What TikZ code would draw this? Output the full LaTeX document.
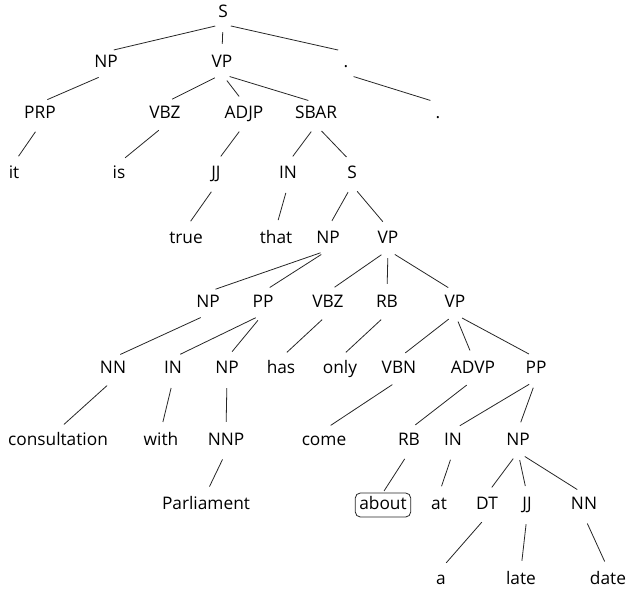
\documentclass[tikz,border=0pt]{standalone}
\usepackage{fontspec}
\setmainfont{Open Sans}
\begin{document}
\begin{tikzpicture}[x=1pt,y=-1pt,
  lbl/.style={font=\fontsize{17.3}{19}\selectfont, text height=12.5pt, text depth=3.5pt, inner sep=3pt, anchor=center},
  edge/.style={draw=black!85, line width=0.8pt, shorten <=8pt, shorten >=8pt}]
\useasboundingbox (0,0) rectangle (630,595);
% row 0
\node[lbl] (s0) at (223,13) {S};
% row 1
\node[lbl] (np1) at (106,63) {NP};
\node[lbl] (vp1) at (222,63) {VP};
\node[lbl] (dot1) at (346,63) {.};
% row 2
\node[lbl] (prp) at (40,114) {PRP};
\node[lbl] (vbz1) at (165,114) {VBZ};
\node[lbl] (adjp) at (244,114) {ADJP};
\node[lbl] (sbar) at (316,114) {SBAR};
\node[lbl] (dot2) at (438,114) {.};
% row 3
\node[lbl] (it) at (14,174) {it};
\node[lbl] (is) at (119,174) {is};
\node[lbl] (jj1) at (216,174) {JJ};
\node[lbl] (in1) at (288,174) {IN};
\node[lbl] (s2) at (352,174) {S};
% row 4
\node[lbl] (true) at (186,239) {true};
\node[lbl] (that) at (276,239) {that};
\node[lbl] (np2) at (328,239) {NP};
\node[lbl] (vp2) at (388,239) {VP};
% row 5
\node[lbl] (np3) at (208,303) {NP};
\node[lbl] (pp1) at (263,303) {PP};
\node[lbl] (vbz2) at (328,303) {VBZ};
\node[lbl] (rb1) at (387,303) {RB};
\node[lbl] (vp3) at (455,303) {VP};
% row 6
\node[lbl] (nn1) at (113,369) {NN};
\node[lbl] (in2) at (173,369) {IN};
\node[lbl] (np4) at (227,369) {NP};
\node[lbl] (has) at (281,369) {has};
\node[lbl] (only) at (340,369) {only};
\node[lbl] (vbn) at (399,369) {VBN};
\node[lbl] (advp) at (473,369) {ADVP};
\node[lbl] (pp2) at (536,369) {PP};
% row 7
\node[lbl] (cons) at (58,441) {consultation};
\node[lbl] (with) at (161,441) {with};
\node[lbl] (nnp) at (226,441) {NNP};
\node[lbl] (come) at (324,441) {come};
\node[lbl] (rb2) at (409,441) {RB};
\node[lbl] (in3) at (453,441) {IN};
\node[lbl] (np5) at (518,441) {NP};
% row 8
\node[lbl] (parl) at (206,505) {Parliament};
\node[lbl, draw=black!85, line width=0.8pt, rounded corners=5pt, inner xsep=4pt, inner ysep=4pt] (about) at (383,505) {about};
\node[lbl] (at) at (439,505) {at};
\node[lbl] (dt) at (487,505) {DT};
\node[lbl] (jj2) at (527,505) {JJ};
\node[lbl] (nn2) at (584,505) {NN};
% row 9
\node[lbl] (a) at (441,580) {a};
\node[lbl] (late) at (521,580) {late};
\node[lbl] (date) at (608,580) {date};
% edges
\foreach \p/\c in {s0/np1, s0/vp1, s0/dot1, np1/prp, vp1/vbz1, vp1/adjp, vp1/sbar, dot1/dot2,
  prp/it, vbz1/is, adjp/jj1, sbar/in1, sbar/s2, jj1/true, in1/that, s2/np2, s2/vp2,
  np2/np3, np2/pp1, vp2/vbz2, vp2/rb1, vp2/vp3, np3/nn1, pp1/in2, pp1/np4, vbz2/has, rb1/only,
  vp3/vbn, vp3/advp, vp3/pp2, nn1/cons, in2/with, np4/nnp, vbn/come, advp/rb2, pp2/in3, pp2/np5,
  nnp/parl, in3/at, np5/dt, np5/jj2, np5/nn2, dt/a, jj2/late, nn2/date}
  \draw[edge] (\p.south) -- (\c.north);
\draw[edge, shorten >=2pt] (rb2.south) -- (about.north);
\end{tikzpicture}
\end{document}
